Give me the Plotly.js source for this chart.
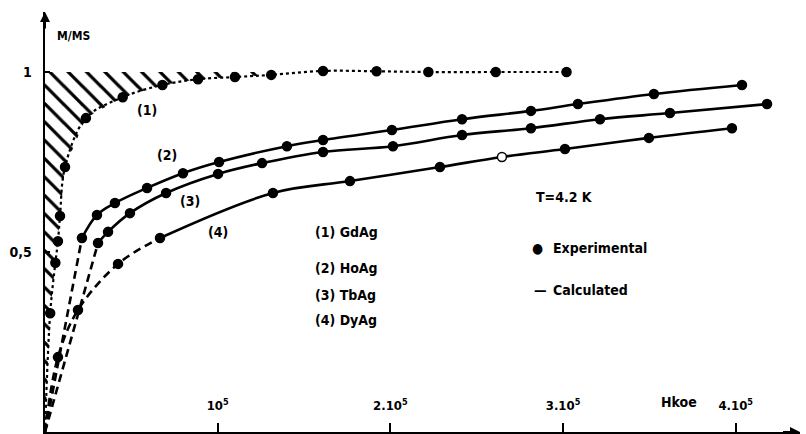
<!DOCTYPE html>
<html>
<head>
<meta charset="utf-8">
<script src="https://cdn.plot.ly/plotly-3.0.1.min.js"></script>
<style>html,body{margin:0;padding:0;background:#fff;}#chart{width:806px;height:434px;}</style>
</head>
<body>
<div id="chart"></div>
<script>
// Field H in units of 1e5 Oe, reduced magnetisation M/MS
const seriesNames = ['GdAg', 'HoAg', 'TbAg', 'DyAg'];

const H_GdAg = [0.03, 0.06, 0.075, 0.087, 0.116, 0.237, 0.45, 0.68, 0.886, 1.10, 1.31, 1.61, 1.92, 2.22, 2.61, 3.02];
const M_GdAg = [0.33, 0.47, 0.53, 0.60, 0.736, 0.872, 0.93, 0.964, 0.98, 0.986, 0.992, 1.003, 1.002, 1.0, 1.0, 1.0];

const H_HoAg = [0.214, 0.301, 0.405, 0.591, 0.799, 1.008, 1.401, 1.61, 2.009, 2.415, 2.814, 3.086, 3.526, 4.036];
const M_HoAg = [0.539, 0.603, 0.636, 0.678, 0.719, 0.75, 0.794, 0.811, 0.839, 0.869, 0.892, 0.911, 0.939, 0.964];

const H_TbAg = [0.307, 0.365, 0.492, 0.701, 1.002, 1.257, 1.61, 2.015, 2.415, 2.814, 3.214, 3.619, 4.181];
const M_TbAg = [0.525, 0.556, 0.608, 0.664, 0.717, 0.747, 0.778, 0.794, 0.825, 0.844, 0.869, 0.886, 0.911];

const H_DyAg = [0.075, 0.191, 0.423, 0.666, 1.32, 1.766, 2.287, 2.646, 3.011, 3.497, 3.978];
const M_DyAg = [0.208, 0.339, 0.467, 0.539, 0.664, 0.697, 0.736, 0.764, 0.786, 0.817, 0.844];

// index of the last point of the dashed (low-field) part of each calculated curve
const dashEnd = {HoAg: 0, TbAg: 0, DyAg: 3};

const xTickVals = [1, 2, 3, 4];
const xTickText = ['10<sup>5</sup>', '2.10<sup>5</sup>', '3.10<sup>5</sup>', '4.10<sup>5</sup>'];
const yTickVals = [0.5, 1];
const yTickText = ['0,5', '1'];

const FONT = 'DejaVu Sans Condensed, DejaVu Sans, Arial, sans-serif';
const BOLD = {family: FONT, size: 14, color: '#000', weight: 'bold'};

const traces = [];

// hatched region between the axis, M=1 and curve (1)
const hatchX = [0], hatchY = [0];
for (let i = 0; i < H_GdAg.length; i++) {
  if (H_GdAg[i] <= 1.31) { hatchX.push(H_GdAg[i]); hatchY.push(M_GdAg[i]); }
}
hatchX.push(hatchX[hatchX.length - 1], 0, 0);
hatchY.push(1, 1, 0);
traces.push({
  x: hatchX, y: hatchY, mode: 'lines', fill: 'toself', fillcolor: 'rgba(0,0,0,0)',
  line: {width: 0, shape: 'linear', color: 'rgba(0,0,0,0)'},
  fillpattern: {shape: '\\', fgcolor: '#000', bgcolor: 'rgba(0,0,0,0)', size: 13, solidity: 0.25},
  hoverinfo: 'skip'
});

// curve (1): dotted calculated line
traces.push({x: [0].concat(H_GdAg), y: [0].concat(M_GdAg), mode: 'lines',
  line: {color: '#000', width: 2.2, dash: 'dot', shape: 'spline'}});

function addCurve(H, M, k) {
  traces.push({x: [0].concat(H.slice(0, k + 1)), y: [0].concat(M.slice(0, k + 1)), mode: 'lines',
    line: {color: '#000', width: 2.6, dash: '8px,5px', shape: 'spline'}});
  traces.push({x: H.slice(k), y: M.slice(k), mode: 'lines',
    line: {color: '#000', width: 2.6, shape: 'spline'}});
}
addCurve(H_HoAg, M_HoAg, dashEnd.HoAg);
addCurve(H_TbAg, M_TbAg, dashEnd.TbAg);
addCurve(H_DyAg, M_DyAg, dashEnd.DyAg);

// experimental points
const series = [[H_GdAg, M_GdAg], [H_HoAg, M_HoAg], [H_TbAg, M_TbAg], [H_DyAg, M_DyAg]];
series.forEach(function (s, i) {
  const fills = s[0].map(function (h) { return (i === 3 && h === 2.646) ? '#fff' : '#000'; });
  traces.push({x: s[0], y: s[1], mode: 'markers', name: seriesNames[i],
    marker: {color: fills, size: 9, line: {color: '#000', width: 1.5}}});
});

function txt(x, y, text, anchor) {
  return {x: x, y: y, xref: 'x', yref: 'y', text: text, showarrow: false,
    xanchor: anchor || 'left', yanchor: 'middle', font: BOLD};
}

const annotations = [
  txt(0.59, 0.894, '(1)', 'center'),
  txt(0.706, 0.769, '(2)', 'center'),
  txt(0.84, 0.642, '(3)', 'center'),
  txt(1.0, 0.556, '(4)', 'center'),
  txt(1.55, 0.556, '(1) ' + seriesNames[0]),
  txt(1.55, 0.456, '(2) ' + seriesNames[1]),
  txt(1.55, 0.381, '(3) ' + seriesNames[2]),
  txt(1.55, 0.311, '(4) ' + seriesNames[3]),
  txt(2.83, 0.653, 'T=4.2 K'),
  txt(2.85, 0.511, '\u25CF', 'center'),
  txt(2.93, 0.511, 'Experimental'),
  txt(2.82, 0.395, '\u2014'),
  txt(2.93, 0.395, 'Calculated'),
  txt(3.67, 0.083, 'Hkoe', 'center'),
  {x: 0.06, y: 1.1, xref: 'x', yref: 'y', text: 'M/MS', showarrow: false, xanchor: 'left',
   yanchor: 'middle', font: {family: FONT, size: 12, color: '#000', weight: 'bold'}},
  // axis arrows
  {x: 0, y: 1.1667, xref: 'x', yref: 'y', ax: 0, ay: 25, text: ' ', showarrow: true,
   arrowhead: 2, arrowsize: 1, arrowwidth: 2, arrowcolor: '#000'},
  {x: 4.372, y: 0, xref: 'x', yref: 'y', ax: -20, ay: 0, text: ' ', showarrow: true,
   arrowhead: 2, arrowsize: 1, arrowwidth: 2, arrowcolor: '#000'}
];

const layout = {
  width: 806, height: 434,
  margin: {l: 45, r: 6, t: 12, b: 2},
  paper_bgcolor: '#fff', plot_bgcolor: '#fff',
  showlegend: false,
  font: {family: FONT, color: '#000'},
  xaxis: {range: [0, 4.372], showgrid: false, zeroline: false, showline: true,
    linecolor: '#000', linewidth: 2, tickvals: xTickVals, ticktext: xTickText,
    ticks: 'inside', ticklen: 9, tickwidth: 2, tickcolor: '#000',
    ticklabelposition: 'inside', ticklabelstandoff: 10,
    tickfont: {family: FONT, size: 13, color: '#000', weight: 'bold'}},
  yaxis: {range: [0, 1.1667], showgrid: false, zeroline: false, showline: true,
    linecolor: '#000', linewidth: 2.5, tickvals: yTickVals, ticktext: yTickText,
    ticks: 'inside', ticklen: 5, tickwidth: 2, tickcolor: '#000', ticklabelstandoff: 8,
    tickfont: {family: FONT, size: 14, color: '#000', weight: 'bold'}},
  annotations: annotations
};

Plotly.newPlot('chart', traces, layout, {displayModeBar: false, staticPlot: true});
</script>
</body>
</html>
